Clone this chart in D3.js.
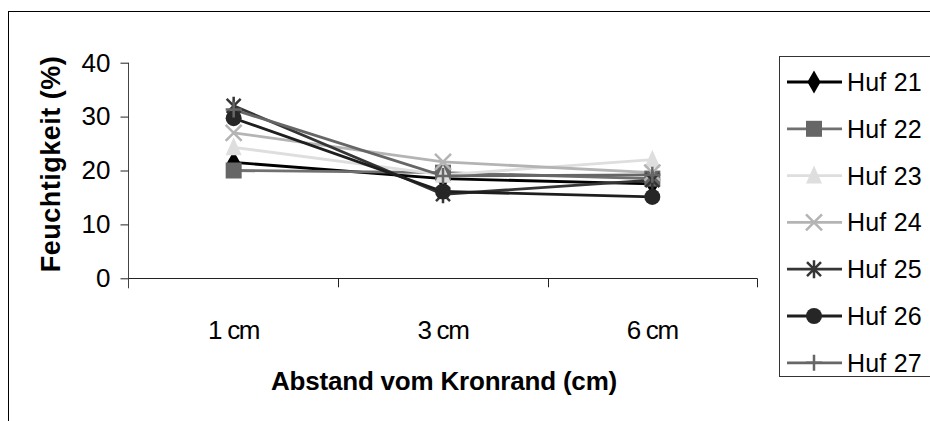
<!DOCTYPE html>
<html>
<head>
<meta charset="utf-8">
<script src="https://cdn.jsdelivr.net/npm/d3@7"></script>
<style>
  html, body { margin: 0; padding: 0; background: #fff; }
  svg { display: block; font-family: "Liberation Sans", Arial, sans-serif; }
</style>
</head>
<body>
<svg id="chart" width="930" height="421"></svg>
<script>
'use strict';

// ── Data ─────────────────────────────────────────────────────
const categories = ['1 cm', '3 cm', '6 cm'];
const seriesNames = ['Huf 21', 'Huf 22', 'Huf 23', 'Huf 24', 'Huf 25', 'Huf 26', 'Huf 27'];
const huf21 = [21.5, 18.5, 17.5];
const huf22 = [20.0, 19.6, 18.5];
const huf23 = [24.3, 19.2, 22.0];
const huf24 = [27.0, 21.6, 19.6];
const huf25 = [32.0, 15.6, 18.2];
const huf26 = [29.7, 16.1, 15.1];
const huf27 = [31.3, 19.0, 19.2];
const yTicks = [0, 10, 20, 30, 40];

const seriesValues = [huf21, huf22, huf23, huf24, huf25, huf26, huf27];

// ── Style ────────────────────────────────────────────────────
const LINE_COLOR   = ['#000000', '#707070', '#dedede', '#b4b4b4', '#353535', '#1e1e1e', '#666666'];
const MARK_COLOR   = ['#000000', '#666666', '#dedede', '#b4b4b4', '#353535', '#262626', '#666666'];
const MARK_KIND    = ['diamond', 'square', 'triangle', 'x', 'star', 'circle', 'plus'];

const svg = d3.select('#chart');

// outer frame
svg.append('rect')
  .attr('x', 8.5).attr('y', 11.5)
  .attr('width', 940).attr('height', 430)
  .attr('fill', 'none').attr('stroke', '#000').attr('stroke-width', 1);

const x = d3.scaleBand().domain(categories).range([129, 757]);
const y = d3.scaleLinear().domain([0, 40]).range([278.3, 62.7]);
const cx = c => x(c) + x.bandwidth() / 2;

// ── Axes ─────────────────────────────────────────────────────
const yAxis = svg.append('g')
  .attr('transform', 'translate(128.5,0)')
  .call(d3.axisLeft(y).tickValues(yTicks).tickSize(8).tickPadding(10).tickSizeOuter(0));
yAxis.select('.domain').attr('stroke', '#444');
yAxis.selectAll('.tick line').attr('stroke', '#222');
yAxis.selectAll('.tick text')
  .attr('font-size', 26).attr('fill', '#000')
  .attr('font-family', '"Liberation Sans", Arial, sans-serif');
yAxis.select('.domain').attr('d', `M0,${y(40)}V${y(0) + 10}`);

// x axis line + ticks between categories
const xa = svg.append('g');
xa.append('line')
  .attr('x1', 129).attr('x2', 757)
  .attr('y1', Math.round(y(0)) + 0.5).attr('y2', Math.round(y(0)) + 0.5)
  .attr('stroke', '#222');
const bounds = categories.map(c => x(c)).concat([x(categories[categories.length - 1]) + x.bandwidth()]);
xa.selectAll('line.tk').data(bounds.slice(1)).join('line')
  .attr('class', 'tk')
  .attr('x1', d => Math.round(d) + 0.5).attr('x2', d => Math.round(d) + 0.5)
  .attr('y1', y(0)).attr('y2', y(0) + 9)
  .attr('stroke', '#222');
xa.selectAll('text').data(categories).join('text')
  .attr('x', cx)
  .attr('y', 339)
  .attr('text-anchor', 'middle')
  .attr('font-size', 26)
  .attr('letter-spacing', -1.3)
  .text(d => d);

// axis titles
svg.append('text')
  .attr('transform', 'translate(60,164) rotate(-90)')
  .attr('text-anchor', 'middle')
  .attr('font-size', 27).attr('font-weight', 'bold')
  .attr('letter-spacing', 0.5)
  .text('Feuchtigkeit (%)');

svg.append('text')
  .attr('x', 444).attr('y', 390)
  .attr('text-anchor', 'middle')
  .attr('font-size', 26).attr('font-weight', 'bold')
  .attr('letter-spacing', -0.2)
  .text('Abstand vom Kronrand (cm)');

// ── Markers ──────────────────────────────────────────────────
function drawMarker(sel, kind, color) {
  const r = 8;
  if (kind === 'diamond') {
    sel.append('path').attr('d', d3.symbol(d3.symbolDiamond, 150)()).attr('fill', color);
  } else if (kind === 'square') {
    sel.append('rect').attr('x', -r).attr('y', -r).attr('width', 2 * r).attr('height', 2 * r).attr('fill', color);
  } else if (kind === 'triangle') {
    sel.append('path').attr('d', `M0,${-r - 2}L${r},${r}L${-r},${r}Z`).attr('fill', color);
  } else if (kind === 'circle') {
    sel.append('circle').attr('r', r).attr('fill', color);
  } else if (kind === 'x') {
    sel.append('path').attr('d', `M${-r},${-r}L${r},${r}M${-r},${r}L${r},${-r}`)
      .attr('stroke', color).attr('stroke-width', 2.5).attr('fill', 'none');
  } else if (kind === 'star') {
    sel.append('path').attr('d', `M${-r + 1},${-r + 1}L${r - 1},${r - 1}M${-r + 1},${r - 1}L${r - 1},${-r + 1}M0,${-r - 1}V${r + 1}`)
      .attr('stroke', color).attr('stroke-width', 2.5).attr('fill', 'none');
  } else if (kind === 'plus') {
    sel.append('path').attr('d', `M0,${-r}V${r}M${-r},0H${r}`)
      .attr('stroke', color).attr('stroke-width', 2.5).attr('fill', 'none');
  }
}

// ── Series ───────────────────────────────────────────────────
const line = d3.line().x((d, i) => cx(categories[i])).y(d => y(d));
const plot = svg.append('g');

seriesValues.forEach((vals, si) => {
  plot.append('path')
    .datum(vals)
    .attr('d', line)
    .attr('fill', 'none')
    .attr('stroke', LINE_COLOR[si])
    .attr('stroke-width', 2.8);
});
seriesValues.forEach((vals, si) => {
  plot.selectAll(null).data(vals).join('g')
    .attr('transform', (d, i) => `translate(${cx(categories[i])},${y(d)})`)
    .each(function () { drawMarker(d3.select(this), MARK_KIND[si], MARK_COLOR[si]); });
});

// ── Legend ───────────────────────────────────────────────────
const legend = svg.append('g');
legend.append('rect')
  .attr('x', 779.5).attr('y', 56.5)
  .attr('width', 200).attr('height', 320)
  .attr('fill', '#fff').attr('stroke', '#333');

const item = legend.selectAll('g.item').data(seriesNames).join('g')
  .attr('class', 'item')
  .attr('transform', (d, i) => `translate(0,${82 + i * 46.8})`);
item.append('line')
  .attr('x1', 787).attr('x2', 842)
  .attr('stroke', (d, i) => LINE_COLOR[i]).attr('stroke-width', 2.8);
item.each(function (d, i) {
  drawMarker(d3.select(this).append('g').attr('transform', 'translate(814,0)'), MARK_KIND[i], MARK_COLOR[i]);
});
item.append('text')
  .attr('x', 847).attr('y', 9)
  .attr('font-size', 25)
  .attr('letter-spacing', 0.2)
  .text(d => d);
</script>
</body>
</html>
